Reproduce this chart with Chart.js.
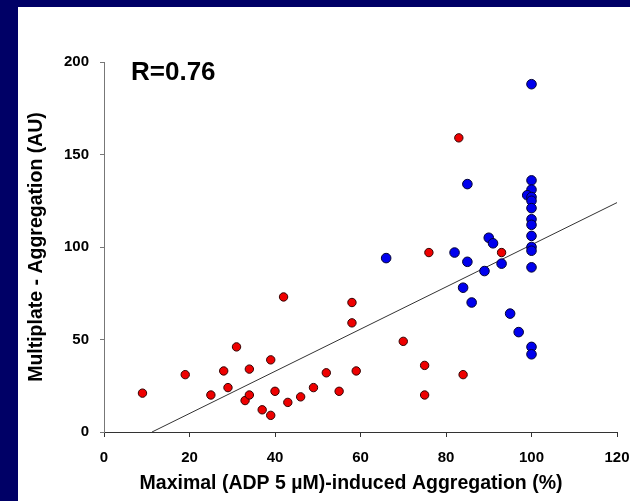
<!DOCTYPE html>
<html>
<head>
<meta charset="utf-8">
<script src="https://cdn.jsdelivr.net/npm/chart.js@4"></script>
<style>
  html, body { margin: 0; padding: 0; background: #000066; width: 630px; height: 501px; overflow: hidden; }
  #panel { position: absolute; left: 18px; top: 7px; width: 612px; height: 494px; background: #ffffff; }
  #chart { display: block; }
</style>
</head>
<body>
<div id="panel"><canvas id="chart" width="612" height="494"></canvas></div>
<script>
// Group 1 (red): maximal ADP aggregation (%) vs Multiplate aggregation (AU)
const redX = [9, 19, 25, 28, 29, 31, 33, 34, 34, 37, 39, 39, 40, 42, 43, 46, 49, 52, 55,
              58, 58, 59, 70, 75, 75, 76, 83, 84, 93];
const redY = [21, 31, 20, 33, 24, 46, 17, 34, 20, 12, 39, 9, 22, 73, 16, 19, 24, 32, 22,
              70, 59, 33, 49, 36, 20, 97, 159, 31, 97];

// Group 2 (blue)
const blueX = [66, 82, 84, 85, 85, 86, 89, 90, 91, 93, 95, 97,
               100, 100, 100, 99, 100, 100, 100, 100, 100, 100, 100, 100, 100, 100, 100];
const blueY = [94, 97, 78, 92, 134, 70, 87, 105, 102, 91, 64, 54,
               188, 136, 131, 128, 127, 125, 121, 115, 112, 106, 100, 98, 89, 46, 42];

// Least-squares fit line: y = slope * x + intercept
const fitSlope = 1.14;
const fitIntercept = -12.8;
const fitRange = [-fitIntercept / fitSlope, 120];

const xMin = 0, xMax = 120, xStep = 20;
const yMin = 0, yMax = 200, yStep = 50;

const corrLabel = 'R=0.76';
const xTitle = 'Maximal (ADP 5 \u00B5M)-induced Aggregation (%)';
const yTitle = 'Multiplate - Aggregation (AU)';

const toPoints = (xs, ys) => xs.map((x, i) => ({ x: x, y: ys[i] }));

const FONT = '"Liberation Sans", Arial, sans-serif';

const textPlugin = {
  id: 'chartText',
  afterDraw(chart) {
    const ctx = chart.ctx;
    const area = chart.chartArea;
    ctx.save();
    ctx.fillStyle = '#000';
    // correlation coefficient
    ctx.font = 'bold 26px ' + FONT;
    ctx.textAlign = 'left';
    ctx.textBaseline = 'alphabetic';
    ctx.fillText(corrLabel, area.left + 27, area.top + 18);
    // x axis title
    ctx.font = 'bold 19.5px ' + FONT;
    ctx.textAlign = 'center';
    ctx.textBaseline = 'middle';
    ctx.fillText(xTitle, 333, 477);
    // y axis title
    ctx.translate(19, (area.top + area.bottom) / 2);
    ctx.rotate(-Math.PI / 2);
    ctx.fillText(yTitle, 0, 0);
    ctx.restore();
  }
};

new Chart(document.getElementById('chart'), {
  type: 'scatter',
  data: {
    datasets: [
      {
        type: 'line',
        data: fitRange.map(x => ({ x: x, y: fitSlope * x + fitIntercept })),
        borderColor: '#333333',
        borderWidth: 1,
        pointRadius: 0,
        fill: false,
        order: 3
      },
      {
        data: toPoints(blueX, blueY),
        backgroundColor: '#0000EE',
        borderColor: '#000033',
        borderWidth: 1,
        pointRadius: 4.8,
        order: 2
      },
      {
        data: toPoints(redX, redY),
        backgroundColor: '#EE0000',
        borderColor: '#330000',
        borderWidth: 1,
        pointRadius: 4.2,
        order: 1
      }
    ]
  },
  options: {
    responsive: false,
    animation: false,
    layout: { padding: { left: 0, top: 55, right: 13, bottom: 0 } },
    plugins: { legend: { display: false }, tooltip: { enabled: false } },
    scales: {
      x: {
        type: 'linear',
        min: xMin, max: xMax,
        ticks: { stepSize: xStep, color: '#000', padding: 12, font: { family: FONT, size: 15, weight: 'bold' } },
        grid: { drawOnChartArea: false, drawTicks: true, tickLength: 5, color: '#333' },
        border: { display: true, color: '#333', width: 1 },
        afterFit(scale) { scale.height = 69; scale.paddingLeft = 0; scale.paddingRight = 0; }
      },
      y: {
        type: 'linear',
        min: yMin, max: yMax,
        ticks: { stepSize: yStep, color: '#000', padding: 11, font: { family: FONT, size: 15, weight: 'bold' } },
        grid: { drawOnChartArea: false, drawTicks: true, tickLength: 4, color: '#777' },
        border: { display: true, color: '#777', width: 1 },
        afterFit(scale) { scale.width = 86; scale.paddingTop = 0; scale.paddingBottom = 0; }
      }
    }
  },
  plugins: [textPlugin]
});
</script>
</body>
</html>
